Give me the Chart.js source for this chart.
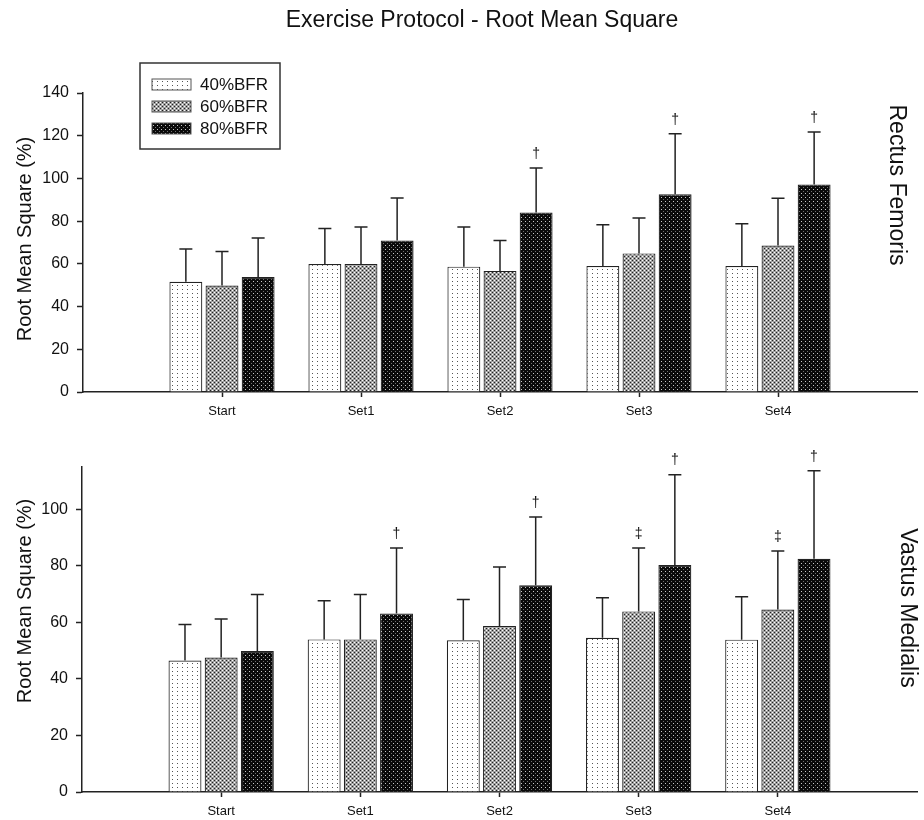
<!DOCTYPE html>
<html>
<head>
<meta charset="utf-8">
<script src="https://cdn.jsdelivr.net/npm/chart.js@4.4.1/dist/chart.umd.min.js"></script>
<style>
  body { margin: 0; background: #fff; }
  #wrap { position: relative; width: 924px; height: 820px; }
  #rf { position: absolute; left: 0; top: 0; }
  #vm { position: absolute; left: 0; top: 430px; }
</style>
</head>
<body>
<div id="wrap">
  <canvas id="rf" width="924" height="430"></canvas>
  <canvas id="vm" width="924" height="390"></canvas>
</div>
<script>
// categories and series
const categories = ['Start', 'Set1', 'Set2', 'Set3', 'Set4'];
const seriesNames = ['40%BFR', '60%BFR', '80%BFR'];

// Rectus Femoris (mean and SD)
const rf40 = [51.6, 59.9, 58.7, 59.0, 59.0];
const rf60 = [49.9, 59.9, 56.7, 64.9, 68.6];
const rf80 = [53.8, 70.9, 84.0, 92.6, 97.1];
const rf40Sd = [15.4, 16.7, 18.6, 19.3, 19.8];
const rf60Sd = [15.9, 17.4, 14.2, 16.6, 22.1];
const rf80Sd = [18.3, 19.9, 20.9, 28.3, 24.6];
const rf40Mark = ['', '', '', '', ''];
const rf60Mark = ['', '', '', '', ''];
const rf80Mark = ['', '', '†', '†', '†'];

// Vastus Medialis (mean and SD)
const vm40 = [46.5, 54.0, 53.7, 54.6, 53.9];
const vm60 = [47.6, 54.0, 58.7, 63.9, 64.6];
const vm80 = [49.9, 63.2, 73.2, 80.3, 82.5];
const vm40Sd = [12.8, 13.7, 14.4, 14.1, 15.2];
const vm60Sd = [13.6, 15.9, 20.9, 22.4, 20.7];
const vm80Sd = [20.0, 23.1, 24.1, 32.0, 31.2];
const vm40Mark = ['', '', '', '', ''];
const vm60Mark = ['', '', '', '‡', '‡'];
const vm80Mark = ['', '†', '†', '†', '†'];

// y axis ticks
const rfTicks = [0, 20, 40, 60, 80, 100, 120, 140];
const vmTicks = [0, 20, 40, 60, 80, 100];

const FONT = '"Liberation Sans", Arial, sans-serif';
Chart.defaults.font.family = FONT;
Chart.defaults.color = '#111';

// fill patterns like the sigmaplot hatches
function makePattern(w, h, bg, dots) {
    const c = document.createElement('canvas');
    c.width = w; c.height = h;
    const g = c.getContext('2d');
    g.fillStyle = bg;
    g.fillRect(0, 0, w, h);
    dots.forEach(d => {
        g.fillStyle = d[2];
        g.fillRect(d[0], d[1], 1, 1);
    });
    return g.createPattern(c, 'repeat');
}
const patterns = [
    makePattern(5, 4, '#ffffff', [[2, 1, '#555']]),
    makePattern(4, 4, '#a0a0a0', [[0, 0, '#222'], [2, 2, '#222'], [2, 0, '#fff'], [0, 2, '#fff']]),
    makePattern(4, 4, '#0a0a0a', [[1, 1, '#c8c8c8'], [3, 3, '#707070']])
];

// error bars + significance marks
const errorBars = {
    id: 'errorBars',
    afterDatasetsDraw(chart) {
        const ctx = chart.ctx;
        const y = chart.scales.y;
        ctx.save();
        ctx.strokeStyle = '#222';
        ctx.lineWidth = 1.5;
        ctx.fillStyle = '#111';
        ctx.font = '14px ' + FONT;
        ctx.textAlign = 'center';
        ctx.textBaseline = 'middle';
        chart.data.datasets.forEach((ds, i) => {
            chart.getDatasetMeta(i).data.forEach((bar, j) => {
                const v = ds.data[j];
                if (v == null) return;
                const top = y.getPixelForValue(v + ds.sd[j]);
                ctx.beginPath();
                ctx.moveTo(bar.x, bar.y);
                ctx.lineTo(bar.x, top);
                ctx.moveTo(bar.x - 6.5, top);
                ctx.lineTo(bar.x + 6.5, top);
                ctx.stroke();
                if (ds.marks[j]) ctx.fillText(ds.marks[j], bar.x, top - 14);
            });
        });
        ctx.restore();
    }
};

// y title, side label, legend and figure title
const decorations = {
    id: 'decorations',
    afterDraw(chart, args, o) {
        const ctx = chart.ctx;
        ctx.save();
        ctx.fillStyle = '#111';
        ctx.textBaseline = 'middle';
        ctx.textAlign = 'center';
        ctx.font = '20px ' + FONT;
        ctx.translate(25, o.yTitleY);
        ctx.rotate(-Math.PI / 2);
        ctx.fillText('Root Mean Square (%)', 0, 0);
        ctx.restore();

        ctx.save();
        ctx.fillStyle = '#111';
        ctx.textBaseline = 'middle';
        ctx.textAlign = 'center';
        ctx.font = '23px ' + FONT;
        ctx.translate(o.sideX, o.sideY);
        ctx.rotate(Math.PI / 2);
        ctx.fillText(o.side, 0, 0);
        ctx.restore();

        if (o.title) {
            ctx.save();
            ctx.fillStyle = '#111';
            ctx.font = '23px ' + FONT;
            ctx.textAlign = 'center';
            ctx.textBaseline = 'middle';
            ctx.fillText(o.title, 482, 21);
            ctx.restore();
        }

        if (o.legend) {
            ctx.save();
            ctx.strokeStyle = '#333';
            ctx.lineWidth = 1.5;
            ctx.fillStyle = '#fff';
            ctx.fillRect(140, 63, 140, 86);
            ctx.strokeRect(140, 63, 140, 86);
            ctx.font = '17px ' + FONT;
            ctx.textBaseline = 'middle';
            ctx.textAlign = 'left';
            chart.data.datasets.forEach((ds, i) => {
                const cy = 84 + i * 22;
                ctx.fillStyle = ds.backgroundColor;
                ctx.fillRect(152, cy - 5, 39, 11);
                ctx.lineWidth = 1;
                ctx.strokeStyle = '#555';
                ctx.strokeRect(152, cy - 5, 39, 11);
                ctx.fillStyle = '#111';
                ctx.fillText(ds.label, 200, cy + 1);
            });
            ctx.restore();
        }
    }
};

function buildChart(id, means, sds, marks, yMax, yTicks, pad, yWidth, xHeight, deco) {
    const labels = ['', ...categories, ''];
    return new Chart(document.getElementById(id), {
        type: 'bar',
        data: {
            labels: labels,
            datasets: seriesNames.map((name, i) => ({
                label: name,
                data: [null, ...means[i], null],
                sd: [null, ...sds[i], null],
                marks: ['', ...marks[i], ''],
                backgroundColor: patterns[i],
                borderColor: '#222',
                borderWidth: 1.2,
                categoryPercentage: 0.78,
                barPercentage: 0.91
            }))
        },
        options: {
            responsive: false,
            animation: false,
            events: [],
            layout: { padding: pad },
            scales: {
                x: {
                    offset: false,
                    grid: {
                        offset: false,
                        drawOnChartArea: false,
                        tickLength: 5,
                        tickWidth: 1.5,
                        tickColor: c => (c.tick && c.tick.label === '') ? 'rgba(0,0,0,0)' : '#222'
                    },
                    border: { color: '#222', width: 1.5 },
                    ticks: { font: { size: 13 }, padding: 7, maxRotation: 0, autoSkip: false },
                    afterFit: s => { s.height = xHeight; }
                },
                y: {
                    min: 0,
                    max: yMax,
                    afterBuildTicks: s => { s.ticks = yTicks.map(v => ({ value: v })); },
                    grid: { drawOnChartArea: false, tickLength: 6, tickWidth: 1.5, tickColor: '#222' },
                    border: { color: '#222', width: 1.5 },
                    ticks: { font: { size: 16 }, padding: 8 },
                    afterFit: s => { s.width = yWidth; }
                }
            },
            plugins: {
                legend: { display: false },
                tooltip: { enabled: false },
                decorations: deco
            }
        },
        plugins: [errorBars, decorations]
    });
}

buildChart('rf', [rf40, rf60, rf80], [rf40Sd, rf60Sd, rf80Sd], [rf40Mark, rf60Mark, rf80Mark],
    140, rfTicks, { top: 93, right: 4, left: 0, bottom: 0 }, 83, 38,
    { yTitleY: 239, side: 'Rectus Femoris', sideX: 896, sideY: 185, title: 'Exercise Protocol - Root Mean Square', legend: true });

buildChart('vm', [vm40, vm60, vm80], [vm40Sd, vm60Sd, vm80Sd], [vm40Mark, vm60Mark, vm80Mark],
    115, vmTicks, { top: 37, right: 5, left: 0, bottom: 0 }, 82, 28,
    { yTitleY: 171, side: 'Vastus Medialis', sideX: 907, sideY: 178, title: '', legend: false });
</script>
</body>
</html>
